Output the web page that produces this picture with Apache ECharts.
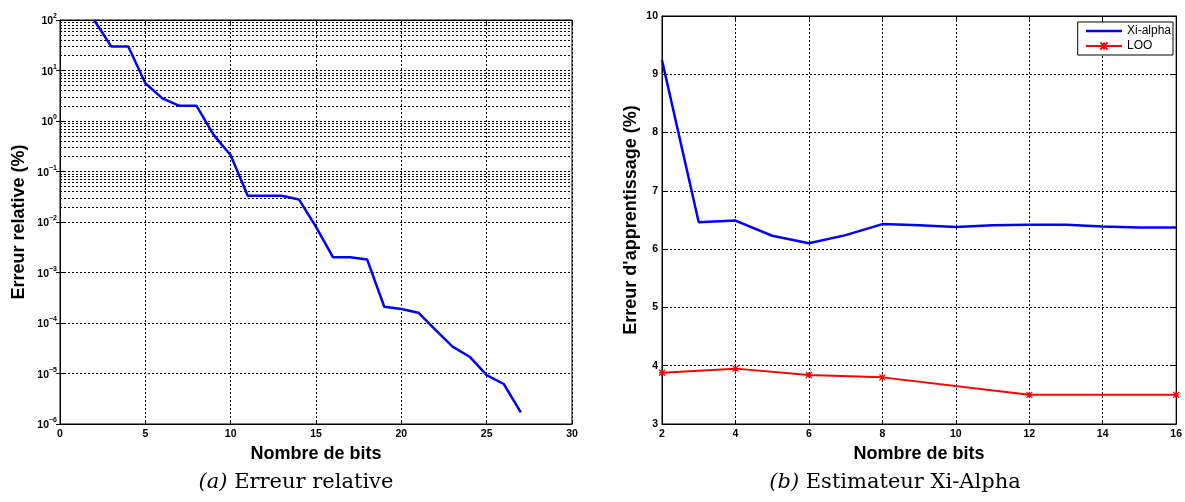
<!DOCTYPE html>
<html>
<head>
<meta charset="utf-8">
<script src="https://cdn.jsdelivr.net/npm/echarts@6/dist/echarts.min.js"></script>
<style>
html,body{margin:0;padding:0;background:#fff;}
#c{width:1185px;height:502px;}
</style>
</head>
<body>
<div id="c"></div>
<script>
// ----- Chart (a): Erreur relative -----
const bitsA = [2,3,4,5,6,7,8,9,10,11,12,13,14,15,16,17,18,19,20,21,22,23,24,25,26,27];
const erreurRelative = [100, 30, 30, 5.6, 2.8, 2.0, 2.0, 0.53, 0.21, 0.033, 0.033, 0.033, 0.028, 0.008,
  0.002, 0.002, 0.0018, 0.00021, 0.00019, 0.00016, 0.000073, 0.000034, 0.0000215, 0.0000093, 0.0000062, 0.0000017];
const yTickExponentsA = {'2':'2','1':'1','0':'0','-1':'\u22121','-2':'\u22122','-3':'\u22123','-4':'\u22124','-5':'\u22125','-6':'\u22126'};

// ----- Chart (b): Estimateur Xi-Alpha -----
const bitsB = [2,3,4,5,6,7,8,9,10,11,12,13,14,15,16];
const xiAlpha = [9.24, 6.46, 6.49, 6.23, 6.10, 6.24, 6.43, 6.41, 6.38, 6.41, 6.42, 6.42, 6.39, 6.37, 6.37];
const bitsLOO = [2,4,6,8,12,16];
const loo = [3.88, 3.95, 3.84, 3.80, 3.50, 3.50];

const captionA = 'Erreur relative';
const captionB = 'Estimateur Xi-Alpha';

// minor log gridlines (2..9 x 10^k)
const minorLines = [];
for (let k = -6; k <= 1; k++) {
  for (let m = 2; m <= 9; m++) minorLines.push({yAxis: m * Math.pow(10, k)});
}

const SANS = 'Liberation Sans, Arial, sans-serif';
const SERIF = 'DejaVu Serif, serif';
const dotted = {color: '#000', width: 1, type: [2, 2]};
const tickLabel = {color: '#000', fontSize: 10.5, fontWeight: 'bold', fontFamily: SANS};
const nameStyle = {color: '#000', fontSize: 18, fontWeight: 'bold', fontFamily: SANS};
const mirror = {
  axisLine: {show: true, lineStyle: {color: '#000'}},
  axisTick: {show: true, inside: true, length: 4, lineStyle: {color: '#000'}},
  axisLabel: {show: false}, splitLine: {show: false}
};

const chart = echarts.init(document.getElementById('c'), null, {renderer: 'canvas'});
chart.setOption({
  animation: false,
  backgroundColor: '#fff',
  grid: [
    {left: 60, top: 20, right: 613, bottom: 78, show: true, borderColor: '#000', borderWidth: 1, backgroundColor: 'transparent'},
    {left: 662, top: 16, right: 7, bottom: 78, show: true, borderColor: '#000', borderWidth: 1, backgroundColor: 'transparent'}
  ],
  xAxis: [
    {gridIndex: 0, type: 'value', min: 0, max: 30, interval: 5,
     name: 'Nombre de bits', nameLocation: 'middle', nameGap: 19, nameTextStyle: nameStyle,
     axisLine: {show: true, lineStyle: {color: '#000'}},
     axisTick: {show: true, inside: true, length: 4, lineStyle: {color: '#000'}},
     axisLabel: Object.assign({margin: 5}, tickLabel),
     splitLine: {show: true, lineStyle: dotted}},
    {gridIndex: 1, type: 'value', min: 2, max: 16, interval: 2,
     name: 'Nombre de bits', nameLocation: 'middle', nameGap: 19, nameTextStyle: nameStyle,
     axisLine: {show: true, lineStyle: {color: '#000'}},
     axisTick: {show: true, inside: true, length: 4, lineStyle: {color: '#000'}},
     axisLabel: Object.assign({margin: 5}, tickLabel),
     splitLine: {show: true, lineStyle: dotted}},
    Object.assign({gridIndex: 0, type: 'value', position: 'top', min: 0, max: 30, interval: 5}, mirror),
    Object.assign({gridIndex: 1, type: 'value', position: 'top', min: 2, max: 16, interval: 2}, mirror)
  ],
  yAxis: [
    {gridIndex: 0, type: 'log', logBase: 10, min: 1e-6, max: 100,
     name: 'Erreur relative (%)', nameLocation: 'middle', nameGap: 32, nameTextStyle: nameStyle,
     axisLine: {show: true, lineStyle: {color: '#000'}},
     axisTick: {show: true, inside: true, length: 4, lineStyle: {color: '#000'}},
     axisLabel: {margin: 3, color: '#000',
       formatter: function (v) {
         const e = String(Math.round(Math.log10(v)));
         return '{b|10}{s|' + (yTickExponentsA[e] || e) + '}';
       },
       rich: {
         b: {fontSize: 10.5, fontWeight: 'bold', fontFamily: SANS, color: '#000', lineHeight: 14, verticalAlign: 'bottom'},
         s: {fontSize: 7, fontWeight: 'bold', fontFamily: SANS, color: '#000', verticalAlign: 'top', lineHeight: 14}
       }},
     splitLine: {show: true, lineStyle: dotted}},
    {gridIndex: 1, type: 'value', min: 3, max: 10, interval: 1,
     name: "Erreur d'apprentissage (%)", nameLocation: 'middle', nameGap: 22, nameTextStyle: nameStyle,
     axisLine: {show: true, lineStyle: {color: '#000'}},
     axisTick: {show: true, inside: true, length: 4, lineStyle: {color: '#000'}},
     axisLabel: Object.assign({margin: 4}, tickLabel),
     splitLine: {show: true, lineStyle: dotted}},
    Object.assign({gridIndex: 0, type: 'log', logBase: 10, position: 'right', min: 1e-6, max: 100}, mirror),
    Object.assign({gridIndex: 1, type: 'value', position: 'right', min: 3, max: 10, interval: 1}, mirror)
  ],
  legend: {
    data: [
      {name: 'Xi-alpha', itemStyle: {color: 'rgba(0,0,0,0)', borderWidth: 0, opacity: 0}, lineStyle: {width: 2.5}},
      {name: 'LOO', lineStyle: {width: 2}}
    ],
    orient: 'vertical', right: 12, top: 22,
    itemWidth: 36, itemHeight: 9, itemGap: 3,
    borderColor: '#000', borderWidth: 1, backgroundColor: '#fff',
    padding: [3, 2, 3, 7],
    textStyle: {color: '#000', fontSize: 12, fontFamily: SANS}
  },
  series: [
    {name: 'grid-minor', type: 'line', xAxisIndex: 0, yAxisIndex: 0, data: [], z: 1, silent: true,
     markLine: {silent: true, symbol: 'none', label: {show: false}, animation: false,
       lineStyle: dotted, emphasis: {disabled: true}, data: minorLines}},
    {name: 'Erreur relative', type: 'line', xAxisIndex: 0, yAxisIndex: 0, z: 5,
     data: bitsA.map((b, i) => [b, erreurRelative[i]]),
     showSymbol: false, symbol: 'none', clip: true,
     lineStyle: {color: '#0000ff', width: 2.5}, itemStyle: {color: '#0000ff'}},
    {name: 'Xi-alpha', type: 'line', xAxisIndex: 1, yAxisIndex: 1, z: 5,
     data: bitsB.map((b, i) => [b, xiAlpha[i]]),
     symbol: 'none',
     lineStyle: {color: '#0000ff', width: 2.5}, itemStyle: {color: '#0000ff'}},
    {name: 'LOO', type: 'line', xAxisIndex: 1, yAxisIndex: 1, z: 5,
     data: bitsLOO.map((b, i) => [b, loo[i]]),
     symbol: 'path://M0,0L10,10M10,0L0,10M5,0L5,10M0,5L10,5', symbolSize: 6, showSymbol: true,
     lineStyle: {color: '#ff0000', width: 2}, itemStyle: {color: '#ff0000', borderColor: '#ff0000', borderWidth: 1.2}}
  ],
  graphic: [
    {type: 'text', x: 296, y: 483, silent: true,
     style: {text: '{i|(a)} ' + captionA, textAlign: 'center', textVerticalAlign: 'middle',
       font: '21px ' + SERIF, fill: '#000',
       rich: {i: {fontStyle: 'italic', fontSize: 21, fontFamily: SERIF, fill: '#000'}}}},
    {type: 'text', x: 895, y: 483, silent: true,
     style: {text: '{i|(b)} ' + captionB, textAlign: 'center', textVerticalAlign: 'middle',
       font: '21px ' + SERIF, fill: '#000',
       rich: {i: {fontStyle: 'italic', fontSize: 21, fontFamily: SERIF, fill: '#000'}}}}
  ]
});
</script>
</body>
</html>
